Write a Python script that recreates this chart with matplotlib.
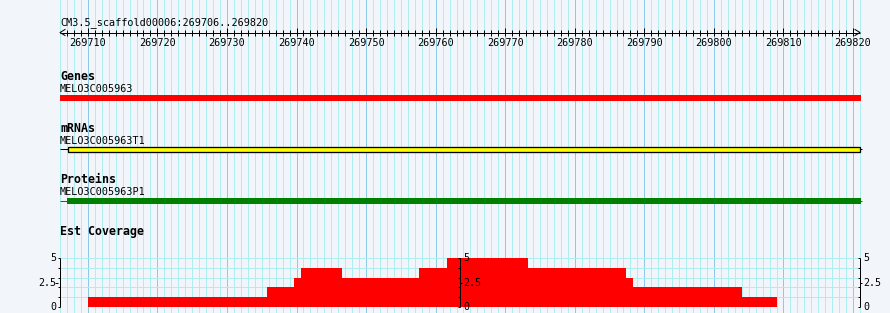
import matplotlib
matplotlib.use("Agg")
import matplotlib.pyplot as plt
import numpy as np

# ---------------------------------------------------------------------------
# data
# ---------------------------------------------------------------------------
region_label = "CM3.5_scaffold00006:269706..269820"
view_start, view_end = 269706, 269821

ruler_labels = [269710, 269720, 269730, 269740, 269750, 269760,
                269770, 269780, 269790, 269800, 269810, 269820]

gene_name = "MELO3C005963"
gene_span = (269706, 269821.2)

mrna_name = "MELO3C005963T1"
mrna_line = (269706, 269821.3)
mrna_exon = (269707.2, 269821.0)

protein_name = "MELO3C005963P1"
protein_line = (269706, 269821.3)
protein_cds = (269707.0, 269821.1)

cov_edges = [269710.0, 269735.7, 269739.7, 269740.7, 269746.6, 269757.6,
             269761.6, 269773.3, 269787.3, 269788.3, 269804.1, 269809.1]
cov_levels = [1, 2, 3, 4, 3, 4, 5, 4, 3, 2, 1]
cov_max = 5

# ---------------------------------------------------------------------------
# style
# ---------------------------------------------------------------------------
W, H = 890, 313
LEFT_PX, RIGHT_PX = 60, 860
BG = "#f2f6fb"
GRID_LIGHT = "#aeeef0"
GRID_DARK = "#8ecae8"
MONO = "DejaVu Sans Mono"
PX = 0.72  # one pixel in points

bp_per_px = (view_end - view_start) / (RIGHT_PX - LEFT_PX)

fig = plt.figure(figsize=(W / 100, H / 100), dpi=100)
fig.patch.set_facecolor(BG)

# main axes: x in bp, y in image pixels (top = 0)
ax = fig.add_axes([0, 0, 1, 1])
ax.set_facecolor(BG)
ax.set_xlim(view_start - LEFT_PX * bp_per_px, view_start + (W - LEFT_PX) * bp_per_px)
ax.set_ylim(H, 0)
ax.axis("off")

# vertical grid: one line per bp, darker every 10 bp
for bp in range(view_start, view_end + 1):
    col = GRID_DARK if bp % 10 == 0 else GRID_LIGHT
    ax.vlines(bp, 0, H, color=col, linewidth=PX, antialiased=False, zorder=1)

# ---- ruler ----
ruler_y = 32.5
ax.hlines(ruler_y, view_start, view_end, color="black", linewidth=PX, zorder=3)
ah = 5 * bp_per_px
ax.plot([view_start + ah, view_start, view_start + ah],
        [ruler_y - 3, ruler_y, ruler_y + 3], color="black", linewidth=PX, zorder=3)
ax.plot([view_end - ah, view_end, view_end - ah],
        [ruler_y - 3, ruler_y, ruler_y + 3], color="black", linewidth=PX, zorder=3)
for bp in range(view_start + 1, view_end):
    top = 27.5 if bp % 10 == 0 else 29.5
    ax.vlines(bp, top, 35.5, color="black", linewidth=PX, zorder=3)
for bp in ruler_labels:
    ax.text(bp, 46, str(bp), ha="center", va="baseline",
            family=MONO, fontsize=7.3, zorder=4)
ax.text(view_start, 25, region_label, ha="left", va="baseline",
        family=MONO, fontsize=7.3, zorder=4)

# ---- tracks ----
def track_title(y, text):
    ax.text(view_start, y, text, ha="left", va="baseline",
            family=MONO, fontsize=8.4, weight="bold", zorder=4)

def feature_name(y, text):
    ax.text(view_start, y, text, ha="left", va="baseline",
            family=MONO, fontsize=7.3, zorder=4)

track_title(80, "Genes")
feature_name(92, gene_name)
ax.barh(98, gene_span[1] - gene_span[0], left=gene_span[0], height=6,
        color="#ff0000", linewidth=0, zorder=3)

track_title(132, "mRNAs")
feature_name(143.5, mrna_name)
ax.hlines(149.3, *mrna_line, color="black", linewidth=PX, zorder=3)
ax.barh(149.3, mrna_exon[1] - mrna_exon[0], left=mrna_exon[0], height=4.6,
        color="#ffff00", edgecolor="black", linewidth=PX * 1.3, zorder=4)

track_title(183, "Proteins")
feature_name(195, protein_name)
ax.hlines(200.5, *protein_line, color="#008000", linewidth=PX, zorder=3)
ax.barh(200.8, protein_cds[1] - protein_cds[0], left=protein_cds[0], height=5.8,
        color="#008000", linewidth=0, zorder=4)

track_title(235, "Est Coverage")

# ---- coverage panel ----
y0_px, y5_px = 306.7, 258.3
cax = fig.add_axes([LEFT_PX / W, (H - y0_px) / H,
                    (RIGHT_PX - LEFT_PX) / W, (y0_px - y5_px) / H])
cax.set_xlim(view_start, view_end)
cax.set_ylim(0, cov_max)
cax.patch.set_alpha(0)
cax.axis("off")

for lv in range(cov_max + 1):
    col = GRID_DARK if lv == 0 else GRID_LIGHT
    cax.hlines(lv, view_start, view_end, color=col, linewidth=PX,
               antialiased=False, zorder=1)

cax.stairs(cov_levels, cov_edges, fill=True, color="#ff0000",
           linewidth=0, zorder=2)

tick_len = 2 * bp_per_px
mid = (view_start + view_end) / 2
for xa, side in [(view_start, "left"), (mid, "right"), (view_end, "right")]:
    cax.vlines(xa, 0, cov_max, color="black", linewidth=PX, zorder=5,
               clip_on=False)
    for lv in range(cov_max + 1):
        cax.hlines(lv, xa - tick_len, xa, color="black", linewidth=PX,
                   zorder=5, clip_on=False)
    if side == "left":
        cax.hlines(2.5, xa - 2.5 * tick_len, xa - tick_len, color="black",
                   linewidth=PX, zorder=5, clip_on=False)
        lx, ha = xa - 3.5 * bp_per_px, "right"
    else:
        cax.hlines(2.5, xa, xa + tick_len, color="black",
                   linewidth=PX, zorder=5, clip_on=False)
        lx, ha = xa + 3.5 * bp_per_px, "left"
    for val, lab in [(0, "0"), (2.5, "2.5"), (5, "5")]:
        cax.text(lx, val, lab, ha=ha, va="center", family=MONO,
                 fontsize=7.2, zorder=6, clip_on=False)

fig.savefig("out.png", dpi=100, facecolor=BG)
